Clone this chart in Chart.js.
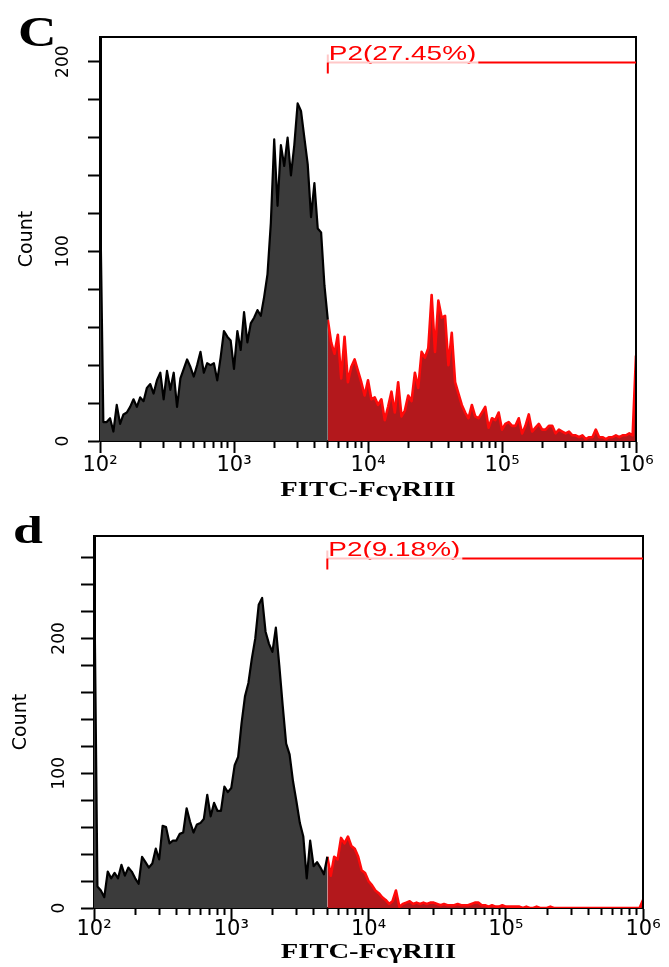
<!DOCTYPE html>
<html>
<head>
<meta charset="utf-8">
<script src="https://cdn.jsdelivr.net/npm/chart.js@4.4.1/dist/chart.umd.min.js"></script>
<style>
  html, body { margin: 0; padding: 0; background: #fff; }
  #wrap { position: relative; width: 669px; height: 967px; overflow: hidden; }
  #wrap canvas { position: absolute; left: 0; }
</style>
</head>
<body>
<div id="wrap">
  <canvas id="chartC" width="669" height="505" style="top:0"></canvas>
  <canvas id="chartD" width="669" height="462" style="top:505px"></canvas>
</div>
<script>
// ================= DATA =================
// histogram channels: 40 per decade, from 10^2 to 10^6 (161 channels)
const channelsPerDecade = 40;
const firstDecade = 2;
const gateChannel = 68;          // P2 gate starts here (~5x10^3)

const xTickValues = [1e2, 1e3, 1e4, 1e5, 1e6];
const xTickLabels = ['10²', '10³', '10⁴', '10⁵', '10⁶'];
const minorDecades = [1e2, 1e3, 1e4, 1e5];
const minorMultipliers = [2, 3, 4, 5, 6, 7, 8, 9];
const countTickStep = 20;
const countLabelStep = 100;

// panel C counts per channel
const countsC = [
  134, 10, 10, 12, 5, 19, 9, 14, 15, 18,
  22, 18, 23, 21, 28, 30, 25, 32, 36, 22,
  37, 27, 36, 18, 33, 38, 43, 39, 34, 40,
  47, 36, 41, 40, 41, 32, 44, 58, 55, 53,
  38, 58, 48, 68, 52, 62, 65, 69, 66, 76,
  88, 115, 159, 124, 156, 145, 160, 140, 156, 178,
  174, 160, 146, 118, 136, 112, 110, 82, 64, 52,
  46, 56, 33, 55, 31, 39, 43, 37, 31, 24,
  32, 22, 23, 19, 22, 11, 18, 26, 15, 31,
  13, 16, 24, 21, 36, 28, 47, 44, 49, 77,
  47, 74, 65, 66, 40, 57, 31, 25, 19, 15,
  12, 19, 13, 12, 15, 18, 7, 12, 11, 15,
  6, 9, 10, 8, 8, 12, 4, 8, 14, 5,
  7, 9, 6, 6, 8, 8, 4, 6, 5, 4,
  5, 3, 3, 2, 3, 1, 2, 2, 6, 2,
  2, 1, 2, 2, 3, 2, 3, 3, 4, 3,
  45
];

// panel d counts per channel
const countsD = [
  265, 16, 13, 8, 27, 22, 26, 22, 32, 24,
  30, 27, 22, 18, 38, 34, 30, 33, 44, 36,
  61, 60, 48, 50, 50, 55, 56, 74, 64, 56,
  62, 63, 66, 84, 68, 78, 72, 72, 90, 86,
  89, 106, 112, 137, 157, 167, 185, 200, 225, 230,
  205, 196, 190, 208, 180, 150, 122, 114, 94, 79,
  63, 53, 22, 50, 31, 34, 30, 25, 38, 24,
  38, 36, 52, 48, 53, 46, 44, 38, 28, 26,
  20, 17, 13, 11, 8, 6, 3, 5, 13, 1,
  3, 4, 5, 3, 4, 3, 4, 3, 4, 4,
  3, 2, 3, 2, 2, 2, 3, 2, 2, 2,
  3, 4, 4, 2, 2, 1, 2, 1, 1, 2,
  1, 1, 1, 1, 1, 0, 1, 0, 0, 1,
  0, 0, 0, 1, 0, 0, 0, 0, 0, 0,
  0, 0, 0, 0, 0, 0, 0, 0, 0, 0,
  0, 0, 0, 0, 0, 0, 0, 0, 0, 0,
  6
];

const gateLabelC = 'P2(27.45%)';
const gateLabelD = 'P2(9.18%)';
const xTitle = 'FITC-FcγRIII';
const yTitle = 'Count';

// ================= HELPERS =================
function channelValue(i) {
  return Math.pow(10, firstDecade + i / channelsPerDecade);
}

function histogramPoints(counts, from, to) {
  const pts = [];
  for (let i = from; i <= to; i++) pts.push({ x: channelValue(i), y: counts[i] });
  return pts;
}

// the figure's lettering is horizontally stretched, so draw it scaled
function drawStretched(ctx, text, x, y, font, sx, align) {
  ctx.save();
  ctx.font = font;
  const w = ctx.measureText(text).width * sx;
  const left = align === 'center' ? x - w / 2 : x;
  ctx.translate(left, y);
  ctx.scale(sx, 1);
  ctx.textAlign = 'left';
  ctx.textBaseline = 'alphabetic';
  ctx.fillText(text, 0, 0);
  ctx.restore();
  return w;
}

function strokeLine(ctx, x1, y1, x2, y2) {
  ctx.beginPath();
  ctx.moveTo(x1, y1);
  ctx.lineTo(x2, y2);
  ctx.stroke();
}

// frame, P2 gate marker, panel letter and x title
const flowDecor = {
  id: 'flowDecor',
  afterDraw(chart, args, o) {
    const { ctx, chartArea: a, scales } = chart;
    ctx.save();

    ctx.strokeStyle = '#000';
    ctx.lineWidth = 2;
    ctx.beginPath();
    ctx.moveTo(a.left, a.top);
    ctx.lineTo(a.right, a.top);
    ctx.lineTo(a.right, a.bottom);
    ctx.stroke();

    const gx = scales.x.getPixelForValue(channelValue(gateChannel));
    const gy = Math.round(scales.y.getPixelForValue(o.gateY)) + 0.5;
    ctx.fillStyle = '#ff0000';
    const tw = drawStretched(ctx, o.gateLabel, gx + 1, gy - 3, '21px "Liberation Sans", Arial, sans-serif', 1.33, 'left');
    ctx.lineWidth = 2;
    ctx.strokeStyle = '#ffc8c8';
    strokeLine(ctx, gx, gy, gx + tw + 3, gy);
    strokeLine(ctx, gx, gy - 8, gx, gy);
    ctx.strokeStyle = '#ff0000';
    strokeLine(ctx, gx + tw + 3, gy, a.right, gy);
    strokeLine(ctx, gx, gy, gx, gy + 11);

    ctx.fillStyle = '#000';
    drawStretched(ctx, o.letter, o.letterX, o.letterY,
      'bold ' + o.letterSize + 'px "Liberation Serif", serif', o.letterStretch, 'left');
    drawStretched(ctx, xTitle, (a.left + a.right) / 2, o.titleY,
      'bold 22px "Liberation Serif", serif', 1.3, 'center');
    ctx.restore();
  }
};

// ================= CHARTS =================
function makeChart(canvasId, counts, p) {
  return new Chart(document.getElementById(canvasId), {
    type: 'line',
    data: {
      datasets: [
        {
          data: histogramPoints(counts, 0, gateChannel),
          borderColor: '#000',
          backgroundColor: '#3b3b3b',
          borderWidth: 2.2,
          borderJoinStyle: 'round',
          fill: 'origin',
          pointRadius: 0,
          tension: 0
        },
        {
          data: histogramPoints(counts, gateChannel, counts.length - 1),
          borderColor: '#ff0a0a',
          backgroundColor: '#b3181c',
          borderWidth: 2.6,
          borderJoinStyle: 'round',
          fill: 'origin',
          pointRadius: 0,
          tension: 0
        }
      ]
    },
    options: {
      responsive: false,
      animation: false,
      events: [],
      layout: { padding: { left: 0, top: p.top, right: p.right, bottom: 0 } },
      plugins: {
        legend: { display: false },
        tooltip: { enabled: false },
        flowDecor: p.decor
      },
      scales: {
        x: {
          type: 'logarithmic',
          position: 'bottom',
          min: xTickValues[0],
          max: xTickValues[xTickValues.length - 1],
          afterBuildTicks: s => { s.ticks = xTickValues.map(v => ({ value: v })); },
          afterFit: s => { s.height = p.xAxisHeight; },
          grid: { drawOnChartArea: false, tickLength: 12, tickWidth: 2, color: '#000' },
          border: { color: '#000', width: 2 },
          ticks: {
            autoSkip: false, maxRotation: 0, minRotation: 0, padding: p.xLabelPad,
            color: '#000', font: { family: 'DejaVu Sans', size: 21 },
            callback: (v, i) => xTickLabels[i]
          }
        },
        xMinor: {
          axis: 'x',
          type: 'logarithmic',
          position: { y: 0 },
          min: xTickValues[0],
          max: xTickValues[xTickValues.length - 1],
          afterBuildTicks: s => {
            const t = [];
            minorDecades.forEach(d => minorMultipliers.forEach(m => t.push({ value: d * m })));
            s.ticks = t;
          },
          grid: { drawOnChartArea: false, tickLength: 7, tickWidth: 2, color: '#000' },
          border: { display: false },
          ticks: { display: false, autoSkip: false }
        },
        y: {
          position: 'left',
          min: 0,
          max: p.yMax,
          afterFit: s => { s.width = p.yAxisWidth; },
          grid: { drawOnChartArea: false, tickLength: p.yTickLength, tickWidth: 2, color: '#000' },
          border: { color: '#000', width: 3 },
          ticks: {
            stepSize: countTickStep, includeBounds: false, autoSkip: false,
            minRotation: 90, maxRotation: 90, crossAlign: 'center', padding: p.yLabelPad,
            color: '#000', font: { family: 'DejaVu Sans', size: 17 },
            callback: v => (v % countLabelStep === 0 ? String(v) : '')
          },
          title: {
            display: true, text: yTitle, color: '#000',
            font: { family: 'DejaVu Sans', size: 19 },
            padding: { top: p.yTitlePad, bottom: 0 }
          }
        }
      }
    },
    plugins: [flowDecor]
  });
}

makeChart('chartC', countsC, {
  top: 37, right: 33, yAxisWidth: 100, xAxisHeight: 64, yMax: 213,
  yTickLength: 12, yLabelPad: 8, yTitlePad: 16, xLabelPad: 0,
  decor: { gateY: 200, gateLabel: gateLabelC, letter: 'C', letterX: 18, letterY: 46,
           letterSize: 42, letterStretch: 1.27, titleY: 496 }
});

makeChart('chartD', countsD, {
  top: 31, right: 26, yAxisWidth: 94, xAxisHeight: 59, yMax: 276,
  yTickLength: 13, yLabelPad: 5, yTitlePad: 10, xLabelPad: -3,
  decor: { gateY: 260, gateLabel: gateLabelD, letter: 'd', letterX: 13, letterY: 38,
           letterSize: 37, letterStretch: 1.45, titleY: 453 }
});
</script>
</body>
</html>
